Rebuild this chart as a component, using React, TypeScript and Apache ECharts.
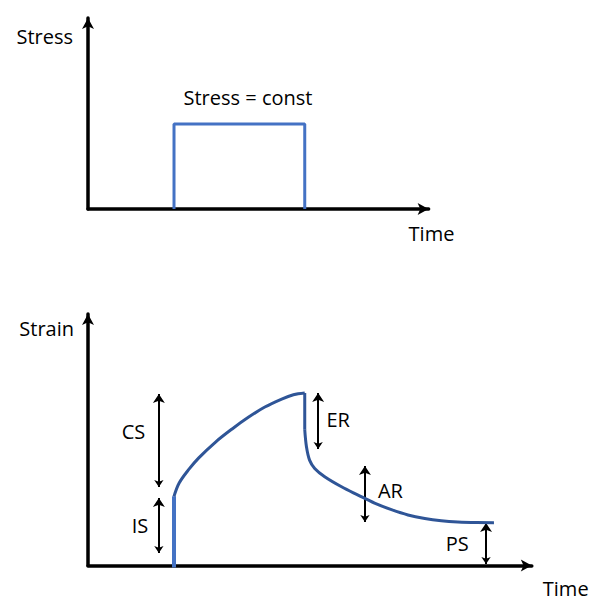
import React, { useEffect, useRef } from "react";
import * as echarts from "echarts";

// Top panel: stress step
const stressTimes = [25, 25, 63, 63];
const stressValues = [0, 44.5, 44.5, 0];
const stressNote = "Stress = const";
const stressNoteTime = 46.5;
const stressNoteValue = 58.6;

// Bottom panel: strain response
const loadTimes = [25, 25];
const loadStrain = [-1, 27.5];
const creepTimes = [25, 26.5, 29.3, 32.2, 37, 41.8, 46.6, 51.4, 56.3, 59.7, 63];
const creepStrain = [27.5, 32.8, 38.2, 42.8, 49.0, 54.2, 58.9, 63.0, 66.2, 67.9, 68.6];
const dropTimes = [63, 63];
const dropStrain = [68.6, 54];
const recoveryTimes = [63, 63.5, 64.4, 65.9, 68.8, 73.7, 78.5, 83.3, 88.2, 93, 97.9, 102.7, 107.5, 113, 118];
const recoveryStrain = [54, 47.2, 41.9, 38.6, 35.3, 31.3, 28.0, 24.8, 22.2, 20.1, 18.7, 17.8, 17.3, 17.05, 17.0];

// Annotations (double arrows + labels)
const annotationLabels = ["CS", "IS", "ER", "AR", "PS"];
const annotationTimes = [20.6, 20.6, 66.9, 80.5, 115.7];
const annotationLow = [31.2, 5.0, 46.3, 17.3, 0.6];
const annotationHigh = [68.2, 26.8, 68.6, 39.6, 16.9];
const labelTimes = [13.2, 15.1, 72.7, 87.9, 107.3];
const labelStrain = [53.1, 16.1, 57.9, 30.0, 8.9];

const FONT = "'Open Sans', 'Noto Sans', sans-serif";
const zip = (a: number[], b: number[]) => a.map((v, i) => [v, b[i]]);

export default function App() {
  const ref = useRef<HTMLDivElement>(null);
  useEffect(() => {
    if (!ref.current) return;
    const chart = echarts.init(ref.current, null, { renderer: "svg" });
    const axisLine = {
      show: true,
      symbol: ["none", "arrow"],
      symbolSize: [9, 11],
      lineStyle: { color: "#000", width: 3.5 },
    };
    const hidden = {
      axisTick: { show: false },
      axisLabel: { show: false },
      splitLine: { show: false },
    };
    const nameStyle = { color: "#000", fontSize: 20, fontFamily: FONT };
    const textLabel = {
      show: true, position: "inside", formatter: "{b}", color: "#000",
      fontSize: 20, fontFamily: FONT, textBorderWidth: 0, opacity: 1,
    };
    chart.setOption({
      animation: false,
      backgroundColor: "#fff",
      grid: [
        { left: 88, top: 18, width: 340.6, height: 191 },
        { left: 88, top: 314, width: 443.8, height: 251.5 },
      ],
      xAxis: [
        {
          gridIndex: 0, type: "value", min: 0, max: 99, axisLine, ...hidden,
          name: "Time", nameLocation: "end", nameGap: -20,
          nameTextStyle: { ...nameStyle, align: "left", verticalAlign: "top", padding: [14, 0, 0, 0] },
        },
        {
          gridIndex: 1, type: "value", min: 0, max: 129, axisLine, ...hidden,
          name: "Time", nameLocation: "end", nameGap: 11,
          nameTextStyle: { ...nameStyle, align: "left", verticalAlign: "top", padding: [13, 0, 0, 0] },
        },
      ],
      yAxis: [
        {
          gridIndex: 0, type: "value", min: 0, max: 100, axisLine, ...hidden,
          name: "Stress", nameLocation: "end", nameGap: -18,
          nameTextStyle: { ...nameStyle, align: "right", verticalAlign: "middle", padding: [0, 15, 0, 0] },
        },
        {
          gridIndex: 1, type: "value", min: 0, max: 100, axisLine, ...hidden,
          name: "Strain", nameLocation: "end", nameGap: -14,
          nameTextStyle: { ...nameStyle, align: "right", verticalAlign: "middle", padding: [0, 14, 0, 0] },
        },
      ],
      series: [
        {
          type: "line", xAxisIndex: 0, yAxisIndex: 0, data: zip(stressTimes, stressValues),
          symbol: "none", lineStyle: { color: "#4472C4", width: 3 }, z: 1,
        },
        {
          type: "scatter", xAxisIndex: 0, yAxisIndex: 0, symbolSize: 0,
          itemStyle: { opacity: 1 }, emphasis: { disabled: true },
          data: [{ value: [stressNoteTime, stressNoteValue], name: stressNote }],
          label: textLabel,
        },
        {
          type: "line", xAxisIndex: 1, yAxisIndex: 1, data: zip(loadTimes, loadStrain),
          symbol: "none", lineStyle: { color: "#4472C4", width: 4 }, z: 1,
        },
        {
          type: "line", xAxisIndex: 1, yAxisIndex: 1, data: zip(creepTimes, creepStrain),
          symbol: "none", smooth: 0.35, lineStyle: { color: "#2F5597", width: 3 },
        },
        {
          type: "line", xAxisIndex: 1, yAxisIndex: 1, data: zip(dropTimes, dropStrain),
          symbol: "none", lineStyle: { color: "#2F5597", width: 3 },
        },
        {
          type: "line", xAxisIndex: 1, yAxisIndex: 1, data: zip(recoveryTimes, recoveryStrain),
          symbol: "none", smooth: 0.35, lineStyle: { color: "#2F5597", width: 3 },
        },
        {
          type: "lines", coordinateSystem: "cartesian2d", xAxisIndex: 1, yAxisIndex: 1,
          symbol: ["arrow", "arrow"], symbolSize: [7, 9],
          lineStyle: { color: "#000", width: 2, opacity: 1 },
          data: annotationTimes.map((t, i) => ({
            coords: [[t, annotationLow[i]], [t, annotationHigh[i]]],
          })),
        },
        {
          type: "scatter", xAxisIndex: 1, yAxisIndex: 1, symbolSize: 0,
          itemStyle: { opacity: 1 }, emphasis: { disabled: true },
          data: annotationLabels.map((n, i) => ({ value: [labelTimes[i], labelStrain[i]], name: n })),
          label: textLabel,
        },
      ],
    });
    return () => chart.dispose();
  }, []);
  return <div ref={ref} style={{ position: "fixed", left: 0, top: 0, width: 603, height: 614 }} />;
}
